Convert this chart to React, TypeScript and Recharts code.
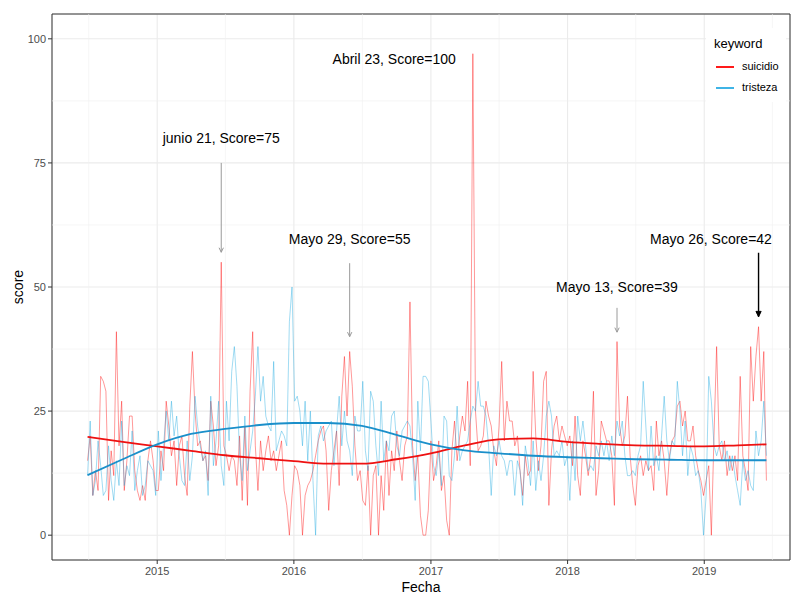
import React from 'react';
import { ComposedChart, Line, XAxis, YAxis, CartesianGrid, ReferenceLine, ReferenceArea, ReferenceDot } from 'recharts';

const FONT = '"Liberation Sans", Arial, sans-serif';
const DAY = 86400000;
const toMs = (s: string) => {
  const [y, m, d] = s.split('-').map(Number);
  return Date.UTC(y, m - 1, d);
};

// weekly google trends scores, first week 2014-06-29
const startDate = '2014-06-29';
const seriesNames = ['suicidio', 'tristeza'];

const suicidio = [
  15, 20, 8, 13, 9, 32, 31, 29, 7, 17, 12, 41, 18, 27, 9, 15, 24, 24, 13, 9, 7, 10, 7, 15, 19,
  15, 9, 9, 17, 13, 27, 22, 16, 19, 10, 18, 20, 12, 8, 26, 37, 25, 18, 19, 15, 16, 11, 27, 22, 14, 18, 55,
  18, 16, 13, 16, 15, 10, 20, 7, 22, 6, 29, 41, 18, 9, 19, 13, 17, 20, 15, 17, 13, 16, 19, 9, 6, 0,
  8, 14, 13, 10, 0, 8, 10, 11, 13, 16, 19, 21, 22, 17, 5, 13, 17, 21, 10, 28, 36, 24, 37, 30, 18, 11,
  13, 7, 6, 14, 0, 12, 14, 0, 12, 5, 19, 8, 17, 13, 21, 15, 11, 18, 20, 47, 18, 11, 16, 4, 0, 0, 5, 19,
  11, 14, 19, 9, 12, 3, 0, 17, 23, 15, 20, 24, 21, 31, 14, 97,
  25, 17, 18, 20, 27, 24, 22, 17, 14, 22, 35, 19, 27, 23, 23, 18, 20, 13, 8, 16,
  12, 13, 33, 20, 13, 18, 31, 33, 6, 17, 22, 24, 19, 22, 20, 18, 20, 14,
  24, 12, 8, 19, 16, 12, 16, 29, 8, 13, 23, 21, 19, 19, 16, 6, 39, 22, 18, 20, 28, 16, 10, 6, 14, 16,
  12, 15, 13, 14, 9, 23, 16, 19, 15, 8, 16, 19, 20, 26, 27, 22, 25, 19, 19, 22, 16, 13, 11, 8, 11, 14,
  0, 20, 38, 18, 15, 19, 12, 16, 13, 16, 11, 32, 16, 13, 9, 38, 27, 36, 42, 27, 37, 11,
];

const tristeza = [
  12, 23, 8, 11, 19, 14, 8, 9, 18, 11, 7, 15, 10, 23, 10, 14, 12, 21, 9, 13, 16, 8, 10, 15, 14,
  13, 8, 21, 11, 18, 25, 19, 27, 20, 24, 16, 11, 10, 19, 11, 16, 28, 22, 18, 15, 17, 8, 28, 14, 19, 27, 14,
  10, 27, 19, 33, 38, 30, 16, 11, 24, 13, 17, 21, 28, 38, 27, 32, 24, 22, 21, 35, 17, 19, 21, 20, 18, 43,
  50, 27, 28, 25, 18, 27, 15, 25, 11, 0, 20, 22, 19, 21, 22, 23, 14, 21, 28, 18, 25, 19, 17, 12, 24, 21,
  21, 31, 17, 13, 29, 27, 18, 12, 27, 15, 19, 17, 24, 25, 18, 16, 21, 22, 23, 22, 16, 7, 27, 17, 32, 32, 31, 23,
  14, 12, 17, 10, 24, 23, 12, 11, 16, 26, 15, 17, 18, 19, 23, 26, 25, 31, 26, 26, 24, 18, 8, 18, 16, 19,
  16, 15, 12, 15, 15, 8, 15, 13, 6, 18, 15, 10, 19, 9, 15, 11, 16, 24, 27, 24, 16, 17, 16, 19, 14, 16, 7,
  19, 11, 24, 19, 23, 18, 13, 14, 13, 18, 16, 19, 16, 19, 15, 20, 16, 23, 20, 23, 16, 12, 12, 13, 12, 16,
  18, 31, 22, 13, 22, 14, 16, 13, 20, 28, 19, 15, 19, 18, 31, 25, 16, 23, 12, 18, 16, 12, 13, 9, 0, 8, 32,
  27, 18, 16, 18, 19, 15, 17, 13, 16, 12, 9, 6, 15, 11, 13, 10, 9, 21, 16, 19, 27, 16,
];

// loess trend
const smoothDates = [
  '2014-06-29', '2014-10-01', '2015-01-01', '2015-04-01', '2015-07-01', '2015-10-01', '2016-01-01',
  '2016-04-01', '2016-07-01', '2016-10-01', '2017-01-01', '2017-04-01', '2017-07-01', '2017-10-01',
  '2018-01-01', '2018-04-01', '2018-07-01', '2018-10-01', '2019-01-01', '2019-04-01', '2019-06-16',
];
const smoothSuicidio = [19.8, 18.8, 17.9, 17.0, 16.1, 15.5, 14.9, 14.4, 14.4, 15.3, 16.5, 18.1, 19.3, 19.5, 18.8, 18.4, 18.1, 18.0, 17.9, 18.1, 18.3];
const smoothTristeza = [12.1, 15.3, 18.3, 20.4, 21.4, 22.2, 22.6, 22.6, 22.0, 20.2, 18.3, 17.1, 16.5, 16.0, 15.7, 15.5, 15.3, 15.2, 15.1, 15.1, 15.1];

const yTicks = [0, 25, 50, 75, 100];
const yMinor = [12.5, 37.5, 62.5, 87.5];
const xTickYears = [2015, 2016, 2017, 2018, 2019];
const xMinorDates = ['2014-07-02', '2015-07-02', '2016-07-02', '2017-07-02', '2018-07-02', '2019-07-02'];

const annotations = [
  { label: 'junio 21, Score=75', textDate: '2015-06-21', textY: 80, date: '2015-06-21', from: 75, to: 57, color: '#9a9a9a' },
  { label: 'Mayo 29, Score=55', textDate: '2016-05-29', textY: 59.7, date: '2016-05-29', from: 54.8, to: 40, color: '#9a9a9a' },
  { label: 'Abril 23, Score=100', textDate: '2016-09-25', textY: 96, date: null, from: 0, to: 0, color: '#9a9a9a' },
  { label: 'Mayo 13, Score=39', textDate: '2018-05-13', textY: 50, date: '2018-05-13', from: 45.8, to: 40.9, color: '#9a9a9a' },
  { label: 'Mayo 26, Score=42', textDate: '2019-01-19', textY: 59.7, date: '2019-05-26', from: 56.9, to: 44, color: '#000000' },
];

const rawColors = ['#ff0000', '#16a6e0'];
const legendColors = ['#ff1a1a', '#3fb4e6'];
const smoothColors = ['#ee1111', '#1a8fca'];

const rows = suicidio.map((v, i) => ({
  t: toMs(startDate) + i * 7 * DAY,
  suicidio: v,
  tristeza: tristeza[i],
}));
const smoothRows = smoothDates.map((d, i) => ({
  t: toMs(d),
  suicidio: smoothSuicidio[i],
  tristeza: smoothTristeza[i],
}));

const xDomain = [toMs('2014-03-26'), toMs('2019-08-18')];
const xTicks = xTickYears.map(y => Date.UTC(y, 0, 1));

const arrowShape = (color: string, closed: boolean) => (p: any) => {
  const { x1, y1, x2, y2 } = p;
  const ang = Math.atan2(y2 - y1, x2 - x1);
  const len = closed ? 6 : 5;
  const spread = Math.PI / 7;
  const ax = x2 - len * Math.cos(ang - spread);
  const ay = y2 - len * Math.sin(ang - spread);
  const bx = x2 - len * Math.cos(ang + spread);
  const by = y2 - len * Math.sin(ang + spread);
  return (
    <g>
      <line x1={x1} y1={y1} x2={x2} y2={y2} stroke={color} strokeWidth={closed ? 1.4 : 1} />
      {closed ? (
        <polygon points={`${ax},${ay} ${x2},${y2} ${bx},${by}`} fill={color} stroke={color} strokeWidth={1} />
      ) : (
        <polyline points={`${ax},${ay} ${x2},${y2} ${bx},${by}`} fill="none" stroke={color} strokeWidth={1} />
      )}
    </g>
  );
};

const textShape = (label: string) => (p: any) => (
  <text x={p.cx} y={p.cy} textAnchor="middle" dominantBaseline="central" fontSize={14} fill="#000" fontFamily={FONT}>
    {label}
  </text>
);

const ChartLegend = () => (
  <div style={{ position: 'absolute', left: 706, top: 28, width: 80, height: 74, background: '#fff', fontFamily: FONT }}>
    <div style={{ position: 'absolute', left: 8, top: 8, fontSize: 13, color: '#000' }}>keyword</div>
    {seriesNames.map((name, i) => (
      <div key={name} style={{ position: 'absolute', left: 0, top: 33 + i * 21, height: 12, width: 80 }}>
        <div style={{ position: 'absolute', left: 10, top: 5, width: 18, height: 1.5, background: legendColors[i] }} />
        <div style={{ position: 'absolute', left: 36, top: -1, fontSize: 11, color: '#000' }}>{name}</div>
      </div>
    ))}
  </div>
);

export default function App() {
  return (
    <div style={{ position: 'absolute', left: 0, top: 0, width: 792, height: 597, background: '#fff', fontFamily: FONT }}>
      <ComposedChart width={792} height={597} data={rows} margin={{ top: 14, right: 2, bottom: 0, left: 0 }}>
        <CartesianGrid stroke="#ebebeb" strokeWidth={1.1} />
        {yMinor.map(v => (
          <ReferenceLine key={`ym${v}`} y={v} stroke="#f0f0f0" strokeWidth={0.6} />
        ))}
        {xMinorDates.map(d => (
          <ReferenceLine key={`xm${d}`} x={toMs(d)} stroke="#f0f0f0" strokeWidth={0.6} ifOverflow="hidden" />
        ))}
        <XAxis
          dataKey="t"
          type="number"
          domain={xDomain}
          allowDataOverflow
          ticks={xTicks}
          tickFormatter={(v: number) => String(new Date(v).getUTCFullYear())}
          axisLine={false}
          tickLine={{ stroke: '#333' }}
          tickSize={4}
          tickMargin={3}
          height={37}
          tick={{ fill: '#4d4d4d', fontSize: 11, fontFamily: FONT }}
          label={{ value: 'Fecha', position: 'insideBottom', offset: 5, style: { fill: '#000', fontSize: 14, fontFamily: FONT } }}
        />
        <YAxis
          type="number"
          domain={[-5, 105]}
          allowDataOverflow
          ticks={yTicks}
          axisLine={false}
          tickLine={{ stroke: '#333' }}
          tickSize={4}
          tickMargin={2}
          width={52}
          tick={{ fill: '#4d4d4d', fontSize: 11, fontFamily: FONT }}
          label={{ value: 'score', angle: -90, position: 'insideLeft', offset: 18, style: { fill: '#000', fontSize: 14, fontFamily: FONT, textAnchor: 'middle' } }}
        />
        {seriesNames.map((name, i) => (
          <Line
            key={`raw-${name}`}
            dataKey={name}
            stroke={rawColors[i]}
            strokeOpacity={0.45}
            strokeWidth={0.9}
            dot={false}
            type="linear"
            isAnimationActive={false}
          />
        ))}
        {seriesNames.map((name, i) => (
          <Line
            key={`smooth-${name}`}
            data={smoothRows}
            dataKey={name}
            stroke={smoothColors[i]}
            strokeWidth={1.8}
            dot={false}
            type="monotone"
            isAnimationActive={false}
          />
        ))}
        {annotations.filter(a => a.date).map(a => (
          <ReferenceLine
            key={`arrow-${a.label}`}
            segment={[{ x: toMs(a.date as string), y: a.from }, { x: toMs(a.date as string), y: a.to }]}
            stroke={a.color}
            ifOverflow="visible"
            shape={arrowShape(a.color, a.color === '#000000')}
          />
        ))}
        {annotations.map(a => (
          <ReferenceDot
            key={`text-${a.label}`}
            x={toMs(a.textDate)}
            y={a.textY}
            r={0}
            ifOverflow="visible"
            shape={textShape(a.label)}
          />
        ))}
        <ReferenceArea x1={xDomain[0]} x2={xDomain[1]} y1={-5} y2={105} fill="none" stroke="#333" strokeWidth={1} ifOverflow="visible" />
      </ComposedChart>
      <ChartLegend />
    </div>
  );
}
